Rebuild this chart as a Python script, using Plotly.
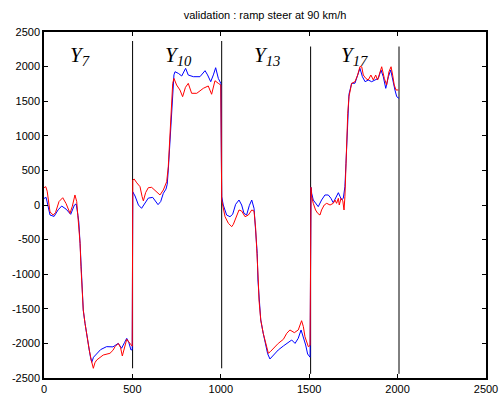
import plotly.graph_objects as go

# ---- data (sample index, lateral value) ----
blue_x = [0, 12, 34, 57, 80, 100, 125, 151, 172, 182, 192, 197, 204, 209, 215, 222, 232, 245, 256, 263, 270, 280, 298, 320, 354, 390, 420, 439, 455, 468, 480, 492, 499,
          502, 515, 534, 552, 570, 590, 615, 630, 645, 660, 675, 690, 697, 703, 713, 722, 728, 735, 741, 760, 779, 790, 801, 816, 845, 882, 900, 911, 925, 943, 958, 971, 986, 1000,
          1005, 1014, 1033, 1052, 1067, 1084, 1103, 1118, 1131, 1146, 1161, 1175, 1188, 1197, 1203, 1206, 1210, 1216, 1226, 1240, 1254, 1265, 1278, 1297, 1325, 1354, 1382, 1401, 1420, 1438, 1454, 1467, 1480, 1491, 1505,
          1510, 1514, 1523, 1536, 1551, 1570, 1589, 1608, 1623, 1636, 1650, 1665, 1675, 1684, 1693, 1702, 1708, 1714, 1718, 1721, 1725, 1731, 1740, 1759, 1778, 1787, 1801, 1816, 1834, 1853, 1872, 1891, 1906, 1919, 1933, 1948, 1961, 1972, 1985, 1995, 2008]
blue_y = [95, 110, -145, -165, -70, -15, -60, -135, 0, 15, -150, -250, -553, -890, -1180, -1517, -1710, -1950, -2095, -2200, -2273, -2200, -2153, -2090, -2047, -2050, -2000, -2070, -1990, -1927, -1990, -2095, -2090,
          190, 130, 0, -48, 20, 100, 110, 60, 5, 50, 169, 230, 300, 505, 940, 1373, 1758, 1880, 1926, 1902, 1864, 1930, 1975, 1878, 1854, 1854, 1900, 1941, 1880, 1782, 1880, 1984, 1830, 1758,
          120, 0, -145, -169, -135, 10, 72, 0, -120, -145, -10, 72, -48, -337, -626, -700, -1084, -1373, -1662, -1854, -2000, -2150, -2225, -2168, -2095, -2037, -1990, -1951, -2000, -1926, -1806, -1903, -2023, -2153, -2200,
          255, 169, 72, 24, -24, 72, 145, 145, 97, 33, 97, 178, 120, 72, 100, 265, 600, 1036, 1325, 1500, 1600, 1662, 1758, 1760, 1902, 1975, 1854, 1782, 1806, 1782, 1806, 1830, 1950, 1854, 1686, 1854, 1950, 1806, 1662, 1565, 1541]

red_x = [0, 10, 18, 25, 34, 52, 65, 85, 106, 125, 147, 160, 175, 185, 192, 197, 204, 209, 215, 222, 232, 245, 256, 268, 279, 288, 298, 335, 373, 390, 402, 420, 433, 443, 455, 468, 480, 492, 499,
         502, 510, 525, 543, 555, 562, 575, 590, 609, 637, 656, 675, 694, 703, 713, 722, 728, 735, 750, 769, 784, 800, 816, 835, 864, 901, 929, 948, 967, 986, 1000,
         1005, 1024, 1043, 1062, 1071, 1090, 1103, 1118, 1137, 1156, 1175, 1188, 1197, 1203, 1209, 1212, 1216, 1226, 1240, 1254, 1269, 1280, 1297, 1325, 1354, 1373, 1391, 1416, 1438, 1457, 1467, 1476, 1495, 1505,
         1510, 1514, 1523, 1536, 1548, 1561, 1570, 1585, 1599, 1618, 1636, 1646, 1655, 1665, 1670, 1680, 1690, 1697, 1702, 1708, 1714, 1718, 1725, 1731, 1740, 1759, 1774, 1787, 1797, 1806, 1820, 1834, 1849, 1863, 1876, 1887, 1900, 1910, 1925, 1938, 1951, 1963, 1972, 1981, 1991, 2004]
red_y = [250, 265, 200, 30, -100, -145, -110, 50, 105, 20, -120, -20, 145, 50, -200, -300, -553, -890, -1180, -1517, -1710, -1950, -2095, -2250, -2360, -2280, -2240, -2168, -2143, -2100, -2047, -2000, -2060, -2182, -2050, -1940, -1980, -2023, -2040,
         361, 375, 320, 265, 120, 60, 180, 250, 255, 192, 145, 217, 337, 553, 1036, 1373, 1758, 1830, 1734, 1662, 1565, 1700, 1758, 1614, 1614, 1686, 1720, 1600, 1796, 1758, 1734,
         72, -169, -265, -313, -279, -145, -72, -87, -169, -145, -72, -87, -337, -626, -857, -1084, -1373, -1662, -1854, -2000, -2143, -2120, -2071, -2000, -1941, -1854, -1806, -1845, -1806, -1672, -1758, -1903, -2047, -2030,
         255, 120, 24, -72, -120, -145, -72, 0, 24, 0, 24, 72, 24, 97, 0, 97, 60, -72, 120, 650, 1036, 1325, 1565, 1662, 1758, 1782, 1878, 2000, 1998, 1878, 1830, 1806, 1878, 1806, 1878, 1806, 1926, 1998, 1830, 1734, 1926, 1998, 1878, 1734, 1662, 1662]

divider_x = [501, 1005, 1508, 2008]
divider_top = [2370, 2370, 2290, 2290]
divider_bottom = [-2360, -2360, -2440, -2440]

label_text = ["7", "10", "13", "17"]
label_x = [136, 673, 1176, 1669]
label_y = [2160, 2160, 2160, 2160]

x_ticks = [0, 500, 1000, 1500, 2000, 2500]
y_ticks = [-2500, -2000, -1500, -1000, -500, 0, 500, 1000, 1500, 2000, 2500]

fig = go.Figure()

# divider lines
for dx, dt, db in zip(divider_x, divider_top, divider_bottom):
    fig.add_trace(go.Scatter(x=[dx, dx], y=[db, dt], mode="lines",
                             line=dict(color="black", width=1), showlegend=False, hoverinfo="skip"))

fig.add_trace(go.Scatter(x=blue_x, y=blue_y, mode="lines",
                         line=dict(color="#0000ff", width=1), showlegend=False))
fig.add_trace(go.Scatter(x=red_x, y=red_y, mode="lines",
                         line=dict(color="#ff0000", width=1), showlegend=False))

for t, lx, ly in zip(label_text, label_x, label_y):
    fig.add_annotation(x=lx, y=ly, xref="x", yref="y", xanchor="left", yanchor="middle",
                       text="<i>Y<sub>" + t + "</sub></i>", showarrow=False,
                       font=dict(family="Liberation Serif, Times New Roman, serif", size=21, color="black"))

axis_common = dict(showline=True, linecolor="black", linewidth=1.5, mirror="ticks",
                   ticks="inside", ticklen=4, tickcolor="black", tickwidth=1,
                   showgrid=False, zeroline=False, automargin=False,
                   tickfont=dict(family="Liberation Sans, Arial, sans-serif", size=11, color="black"))

fig.update_layout(
    width=501, height=398,
    margin=dict(l=44, r=15, t=32, b=20),
    paper_bgcolor="white", plot_bgcolor="white",
    title=dict(text="validation : ramp steer at 90 km/h", x=0.529, xanchor="center",
               y=1 - 15 / 398, yanchor="middle",
               font=dict(family="Liberation Sans, Arial, sans-serif", size=11, color="black")),
    xaxis=dict(range=[0, 2500], tickvals=x_ticks, ticktext=[str(v) for v in x_ticks], **axis_common),
    yaxis=dict(range=[-2500, 2500], tickvals=y_ticks, ticktext=[str(v) for v in y_ticks], **axis_common),
)

fig.write_html("out.html", config={"displayModeBar": False},
               post_script="document.body.style.margin='0px';document.body.style.overflow='hidden';")
